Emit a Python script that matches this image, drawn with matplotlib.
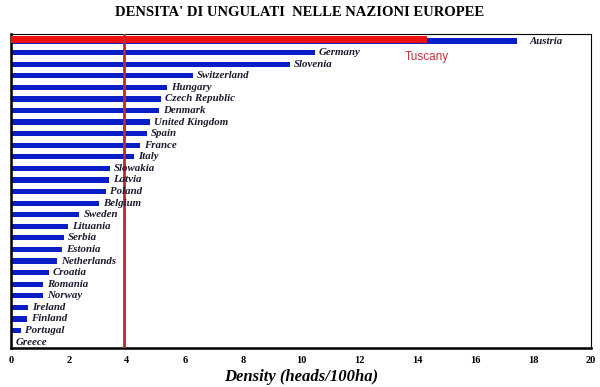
import matplotlib.pyplot as plt
import numpy as np

# Ungulate density by country (heads/100ha)
countries = ['Austria', 'Germany', 'Slovenia', 'Switzerland', 'Hungary',
             'Czech Republic', 'Denmark', 'United Kingdom', 'Spain', 'France',
             'Italy', 'Slowakia', 'Latvia', 'Poland', 'Belgium', 'Sweden',
             'Lituania', 'Serbia', 'Estonia', 'Netherlands', 'Croatia',
             'Romania', 'Norway', 'Ireland', 'Finland', 'Portugal', 'Greece']
density = [17.45, 10.48, 9.62, 6.27, 5.37, 5.17, 5.1, 4.8, 4.69, 4.44,
           4.25, 3.41, 3.38, 3.28, 3.05, 2.36, 1.98, 1.83, 1.76, 1.6,
           1.3, 1.12, 1.1, 0.58, 0.56, 0.34, 0.03]
tuscany_density = 14.34
reference_line = 3.9

serif = 'Liberation Serif'

fig = plt.figure(figsize=(6, 3.87), dpi=100)
ax = fig.add_axes([0.018, 0.101, 0.967, 0.811])

y = np.arange(len(countries))
ax.barh(y, density, height=0.45, color='#0a1ec8', zorder=2)
ax.barh(y[0] - 0.1, tuscany_density, height=0.62, color='#ee1111', zorder=3)
ax.axvline(reference_line, color='#c0272d', lw=2, zorder=4)

for i, (name, val) in enumerate(zip(countries, density)):
    off = 9 if i == 0 else 3
    ax.annotate(name, (val, i), xytext=(off, 0), textcoords='offset points',
                va='center', ha='left', fontsize=7.8, fontfamily=serif,
                fontweight='bold', fontstyle='italic', color='#1a1a2e',
                zorder=5)

ax.text(tuscany_density, 1.4, 'Tuscany', color='#c8323a',
        fontsize=8.5, fontfamily='Liberation Sans', va='center', ha='center')

ax.set_xlim(0, 20)
ax.set_ylim(26.5, -0.6)
ax.set_xticks(np.arange(0, 21, 2))
ax.set_yticks([])
ax.tick_params(axis='x', length=0, pad=6)
for lbl in ax.get_xticklabels():
    lbl.set_fontfamily(serif)
    lbl.set_fontweight('bold')
    lbl.set_fontsize(7.5)

for side in ['left', 'bottom']:
    ax.spines[side].set_linewidth(1.8)
for side in ['top', 'right']:
    ax.spines[side].set_linewidth(0.8)

ax.set_xlabel('Density (heads/100ha)', fontfamily=serif, fontweight='bold',
              fontstyle='italic', fontsize=12, labelpad=3)
fig.suptitle("DENSITA' DI UNGULATI  NELLE NAZIONI EUROPEE", x=0.5, y=0.985,
             fontfamily=serif, fontweight='bold', fontsize=10.5)

plt.savefig('out.png', dpi=100)
